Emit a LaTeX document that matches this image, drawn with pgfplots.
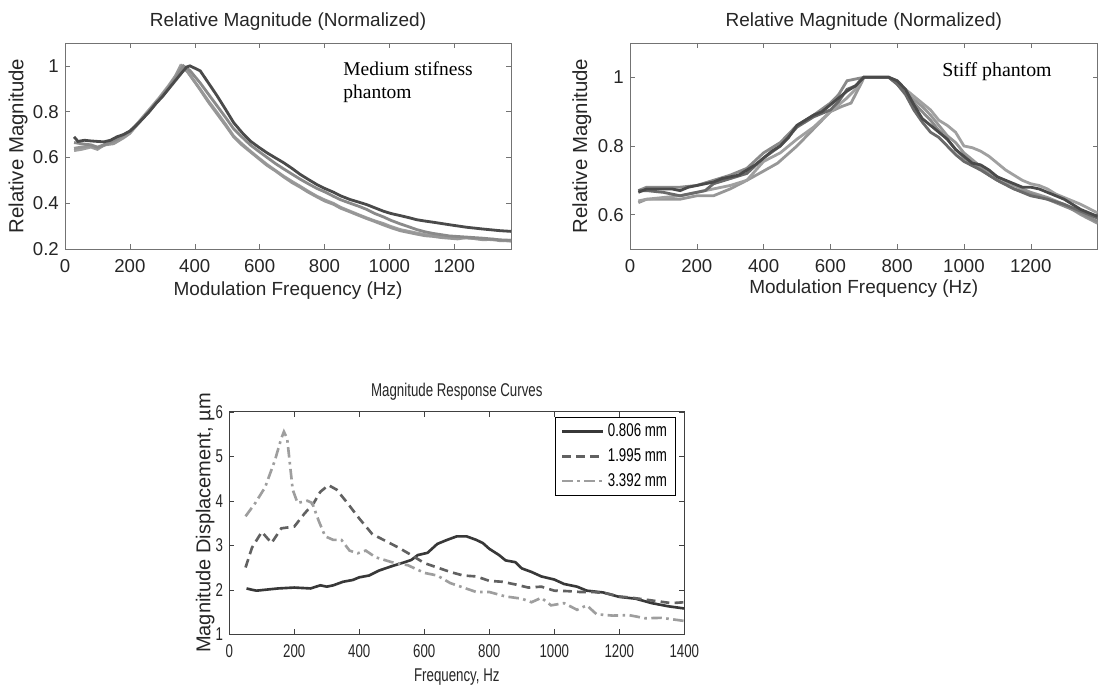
\documentclass[border=0pt]{standalone}
\usepackage{pgfplots}
\pgfplotsset{compat=1.18}
\usepackage{fontspec}
\setmainfont{Liberation Sans}
\newfontfamily\annfont{Liberation Serif}
\newfontfamily\narrowsf[FakeStretch=0.72]{Liberation Sans}

\definecolor{c1}{HTML}{4A4A4A}
\definecolor{c2}{HTML}{6A6A6A}
\definecolor{c3}{HTML}{8A8A8A}
\definecolor{c4}{HTML}{A0A0A0}
\definecolor{c5}{HTML}{979797}

\pgfplotsset{
  matlab/.style={
    scale only axis,
    axis line style={black!55},
    tick style={black!55},
    major tick length=0.1cm,
    tick align=inside,
    xticklabel shift=2.5pt,
    /pgf/number format/assume math mode=true,
    /pgf/number format/1000 sep={},
    tick label style={font=\fontsize{10.6}{12}\selectfont, text=black!85},
    label style={font=\fontsize{10.8}{12}\selectfont, text=black!85},
    title style={font=\fontsize{10.8}{12}\selectfont, text=black!85},
    ylabel style={font=\fontsize{11.6}{12}\selectfont},
    every axis plot/.append style={line width=1.6pt},
  }
}

\begin{document}
\begin{tikzpicture}
\path[use as bounding box] (0,0) rectangle (22.08,13.8);

% medium stiffness phantom
\begin{axis}[matlab,
  at={(1.30cm,8.82cm)}, anchor=south west,
  width=8.92cm, height=4.12cm,
  xmin=0, xmax=1375, ymin=0.2, ymax=1.1,
  xtick={0,200,...,1200}, ytick={0.2,0.4,0.6,0.8,1},
  title={Relative Magnitude (Normalized)},
  title style={at={(axis description cs:0.5,1.054)}, anchor=center},
  xlabel={Modulation Frequency (Hz)},
  xlabel style={at={(axis description cs:0.5,-0.2)}, anchor=center},
  ylabel={Relative Magnitude},
  ylabel style={at={(axis description cs:-0.105,0.5)}, anchor=center},
]
\addplot[c4, no marks] coordinates {
(28,0.63) (50,0.635) (80,0.645) (100,0.635) (120,0.655) (150,0.665) (180,0.69) (200,0.71)
(230,0.76) (260,0.81) (290,0.86) (320,0.915) (340,0.955) (356,1.0) (376,0.978) (395,0.94)
(417,0.898) (443,0.845) (469,0.796) (495,0.745) (520,0.693) (545,0.66) (571,0.628) (597,0.598)
(623,0.569) (650,0.542) (674,0.518) (700,0.495) (725,0.474) (750,0.452) (776,0.431) (800,0.415)
(828,0.399) (850,0.382) (879,0.365) (905,0.35) (930,0.336) (955,0.323) (982,0.311) (1005,0.298)
(1033,0.285) (1060,0.277) (1084,0.270) (1110,0.263) (1135,0.258) (1185,0.252) (1238,0.248)
(1290,0.243) (1341,0.238) (1375,0.234)
};
\addplot[c5, no marks] coordinates {
(28,0.64) (50,0.645) (75,0.65) (100,0.64) (125,0.655) (150,0.66) (180,0.685) (200,0.705)
(230,0.755) (260,0.805) (290,0.855) (320,0.91) (345,0.965) (360,1.0) (380,0.97) (400,0.93)
(417,0.895) (443,0.84) (469,0.79) (495,0.74) (520,0.69) (545,0.655) (571,0.625) (597,0.595)
(623,0.565) (650,0.54) (674,0.515) (700,0.49) (725,0.47) (750,0.448) (776,0.428) (800,0.41)
(828,0.395) (850,0.378) (879,0.362) (905,0.347) (930,0.333) (955,0.32) (982,0.305) (1005,0.293)
(1033,0.28) (1060,0.272) (1084,0.265) (1110,0.258) (1135,0.255) (1160,0.25) (1185,0.247)
(1210,0.244) (1238,0.25) (1265,0.245) (1290,0.24) (1320,0.243) (1341,0.236) (1375,0.238)
};
\addplot[c3, no marks] coordinates {
(28,0.665) (50,0.66) (80,0.655) (100,0.645) (130,0.66) (160,0.68) (200,0.715) (240,0.77)
(280,0.835) (320,0.905) (345,0.955) (365,1.0) (385,0.98) (417,0.925) (443,0.875) (469,0.825)
(495,0.775) (520,0.725) (545,0.69) (571,0.655) (597,0.627) (623,0.60) (650,0.572) (674,0.55)
(700,0.527) (725,0.505) (750,0.485) (776,0.465) (800,0.45) (828,0.43) (850,0.415) (879,0.40)
(905,0.387) (930,0.373) (955,0.355) (982,0.34) (1005,0.325) (1033,0.31) (1060,0.297)
(1084,0.285) (1110,0.275) (1135,0.268) (1185,0.257) (1238,0.252) (1290,0.247) (1341,0.24)
(1375,0.238)
};
\addplot[c1, no marks] coordinates {
(28,0.69) (40,0.67) (60,0.675) (80,0.672) (100,0.67) (120,0.668) (140,0.675) (160,0.69)
(180,0.70) (200,0.715) (220,0.74) (240,0.77) (260,0.80) (280,0.835) (300,0.865) (320,0.9)
(340,0.935) (360,0.97) (375,0.995) (385,1.0) (400,0.99) (417,0.978) (440,0.93) (469,0.869)
(495,0.81) (520,0.752) (545,0.71) (571,0.672) (597,0.645) (623,0.620) (650,0.597) (674,0.577)
(700,0.552) (725,0.526) (750,0.504) (776,0.482) (800,0.465) (828,0.448) (850,0.432) (879,0.416)
(905,0.405) (930,0.394) (955,0.38) (982,0.365) (1005,0.355) (1033,0.346) (1060,0.337)
(1084,0.328) (1110,0.322) (1135,0.317) (1185,0.306) (1238,0.295) (1290,0.287) (1341,0.280)
(1375,0.277)
};
\node[anchor=north west, inner sep=0pt, align=left,
      font=\annfont\fontsize{11.1}{13}\selectfont]
  at (axis cs:857,1.02) {Medium stifness\\phantom};
\end{axis}

% stiff phantom
\begin{axis}[matlab,
  at={(12.60cm,8.82cm)}, anchor=south west,
  width=9.35cm, height=4.12cm,
  xmin=0, xmax=1400, ymin=0.5, ymax=1.1,
  xtick={0,200,...,1200}, ytick={0.6,0.8,1},
  title={Relative Magnitude (Normalized)},
  title style={at={(axis description cs:0.5,1.054)}, anchor=center},
  xlabel={Modulation Frequency (Hz)},
  xlabel style={at={(axis description cs:0.5,-0.19)}, anchor=center},
  ylabel={Relative Magnitude},
  ylabel style={at={(axis description cs:-0.103,0.5)}, anchor=center},
]
\addplot[c5, no marks] coordinates {
(25,0.635) (50,0.645) (100,0.645) (150,0.645) (200,0.655) (250,0.655) (300,0.675) (350,0.70)
(400,0.727) (442,0.75) (500,0.80) (547,0.847) (600,0.90) (634,0.915) (662,0.925) (691,0.98)
(701,1.0) (775,1.0) (800,0.98) (825,0.955) (850,0.935) (875,0.915) (900,0.89) (925,0.86)
(950,0.83) (975,0.81) (1000,0.78) (1050,0.74) (1100,0.71) (1150,0.685) (1200,0.665)
(1250,0.65) (1300,0.63) (1350,0.60) (1400,0.575)
};
\addplot[c4, no marks] coordinates {
(25,0.64) (50,0.645) (100,0.65) (150,0.655) (200,0.665) (250,0.675) (300,0.685) (350,0.70)
(400,0.755) (450,0.78) (500,0.82) (550,0.855) (600,0.90) (650,0.94) (675,0.965) (700,1.0)
(775,1.0) (800,0.99) (825,0.965) (850,0.945) (875,0.925) (900,0.905) (925,0.875) (950,0.86)
(975,0.84) (1000,0.80) (1025,0.795) (1050,0.785) (1075,0.77) (1100,0.75) (1125,0.73)
(1150,0.715) (1175,0.70) (1200,0.69) (1225,0.685) (1250,0.675) (1275,0.66) (1300,0.65)
(1325,0.64) (1350,0.63) (1400,0.605)
};
\addplot[c3, no marks] coordinates {
(25,0.67) (50,0.68) (100,0.68) (150,0.68) (200,0.685) (250,0.70) (300,0.715) (350,0.735)
(400,0.78) (450,0.81) (500,0.86) (550,0.89) (600,0.925) (625,0.95) (650,0.99) (675,0.995)
(700,1.0) (775,1.0) (800,0.985) (825,0.955) (850,0.925) (875,0.90) (900,0.875) (925,0.845)
(950,0.82) (975,0.79) (1000,0.765) (1025,0.75) (1050,0.735) (1075,0.715) (1100,0.70)
(1150,0.675) (1200,0.66) (1250,0.645) (1300,0.625) (1350,0.605) (1400,0.58)
};
\addplot[c2, no marks] coordinates {
(25,0.67) (50,0.67) (100,0.665) (150,0.655) (200,0.665) (225,0.67) (250,0.69) (300,0.705)
(350,0.72) (400,0.765) (450,0.80) (500,0.855) (550,0.885) (600,0.905) (625,0.93) (650,0.965)
(675,0.975) (700,1.0) (775,1.0) (800,0.98) (825,0.95) (850,0.905) (875,0.87) (900,0.84)
(925,0.825) (950,0.80) (975,0.775) (1000,0.755) (1050,0.73) (1100,0.70) (1150,0.675)
(1200,0.655) (1250,0.645) (1300,0.63) (1350,0.61) (1400,0.59)
};
\addplot[c1, no marks] coordinates {
(25,0.665) (50,0.675) (75,0.675) (100,0.675) (125,0.675) (150,0.67) (175,0.68) (200,0.685)
(225,0.69) (250,0.695) (275,0.705) (300,0.71) (325,0.715) (350,0.73) (375,0.745) (400,0.765)
(425,0.785) (450,0.80) (475,0.825) (500,0.86) (525,0.875) (550,0.89) (575,0.90) (600,0.92)
(625,0.94) (650,0.96) (675,0.975) (700,1.0) (725,1.0) (750,1.0) (775,1.0) (800,0.99)
(825,0.965) (850,0.92) (875,0.88) (900,0.86) (925,0.84) (950,0.82) (975,0.79) (1000,0.77)
(1025,0.75) (1050,0.745) (1075,0.73) (1100,0.71) (1125,0.70) (1150,0.69) (1175,0.68)
(1200,0.68) (1225,0.675) (1250,0.665) (1275,0.655) (1300,0.645) (1325,0.63) (1350,0.615)
(1375,0.605) (1400,0.595)
};
\node[anchor=north west, inner sep=0pt,
      font=\annfont\fontsize{11.3}{13}\selectfont]
  at (axis cs:934,1.045) {Stiff phantom};
\end{axis}

% magnitude response curves
\begin{axis}[matlab,
  at={(4.586cm,1.114cm)}, anchor=south west,
  width=9.10cm, height=4.452cm,
  axis line style={black!75}, tick style={black!75},
  xmin=0, xmax=1400, ymin=1, ymax=6,
  xtick={0,200,...,1400}, ytick={1,2,...,6},
  tick label style={font=\narrowsf\fontsize{10.5}{12}\selectfont},
  label style={font=\narrowsf\fontsize{10.5}{12}\selectfont},
  title style={font=\narrowsf\fontsize{10.5}{12}\selectfont,
               at={(axis description cs:0.5,1.041)}, anchor=center},
  title={Magnitude Response Curves},
  xlabel={Frequency, Hz},
  xlabel style={at={(axis description cs:0.5,-0.193)}, anchor=center},
  ylabel={Magnitude Displacement, µm},
  ylabel style={font=\fontsize{11.4}{12}\selectfont,
                at={(axis description cs:-0.053,0.5)}, anchor=center},
  every axis plot/.append style={line width=1.5pt},
  legend style={at={(axis description cs:0.982,0.978)}, anchor=north east,
    draw=black, font=\narrowsf\fontsize{10.5}{12}\selectfont,
    inner xsep=3pt, inner ysep=2pt, row sep=1.2pt},
  legend cell align=left,
  legend image code/.code={\draw[#1, line width=1.5pt] (0cm,0cm) -- (0.82cm,0cm);},
]
\addplot[color=black!78, solid, no marks] coordinates {
(53,2.03) (70,2.0) (84,1.98) (110,2.0) (150,2.03) (200,2.05) (250,2.03) (280,2.1) (300,2.07)
(320,2.1) (350,2.18) (380,2.22) (400,2.28) (430,2.32) (460,2.43) (500,2.53) (540,2.62)
(560,2.67) (580,2.78) (610,2.83) (640,3.03) (670,3.12) (700,3.2) (730,3.2) (760,3.12)
(780,3.05) (800,2.92) (830,2.78) (850,2.66) (880,2.62) (900,2.48) (930,2.4) (960,2.3)
(1000,2.23) (1030,2.13) (1070,2.07) (1100,1.98) (1150,1.94) (1200,1.84) (1250,1.8)
(1300,1.7) (1350,1.63) (1400,1.58)
};
\addlegendentry{0.806 mm}
\addplot[color=black!62, dash pattern=on 5pt off 3pt, no marks] coordinates {
(50,2.5) (70,2.95) (100,3.3) (130,3.05) (160,3.38) (200,3.42) (230,3.7) (260,3.95) (280,4.2)
(305,4.35) (330,4.25) (360,3.98) (400,3.6) (440,3.25) (480,3.1) (520,2.95) (560,2.78)
(600,2.6) (640,2.5) (680,2.4) (720,2.32) (760,2.3) (800,2.2) (840,2.18) (880,2.12)
(920,2.05) (960,2.07) (1000,1.98) (1040,1.97) (1080,1.95) (1120,1.95) (1160,1.92)
(1200,1.85) (1240,1.82) (1280,1.78) (1320,1.74) (1360,1.7) (1400,1.72)
};
\addlegendentry{1.995 mm}
\addplot[color=black!38, dash pattern=on 6pt off 2.5pt on 1.5pt off 2.5pt, no marks] coordinates {
(50,3.65) (80,3.95) (110,4.3) (140,4.9) (160,5.4) (168,5.55) (178,5.4) (195,4.25) (210,3.95)
(240,4.0) (255,3.95) (275,3.55) (295,3.2) (320,3.12) (345,3.12) (370,2.88) (395,2.82)
(420,2.88) (450,2.73) (500,2.62) (550,2.55) (600,2.38) (640,2.32) (680,2.15) (720,2.05)
(760,1.95) (800,1.95) (850,1.85) (900,1.8) (930,1.72) (960,1.82) (990,1.65) (1030,1.7)
(1070,1.55) (1100,1.65) (1130,1.45) (1180,1.42) (1230,1.43) (1280,1.36) (1330,1.37)
(1370,1.33) (1400,1.3)
};
\addlegendentry{3.392 mm}
\end{axis}
\end{tikzpicture}
\end{document}
